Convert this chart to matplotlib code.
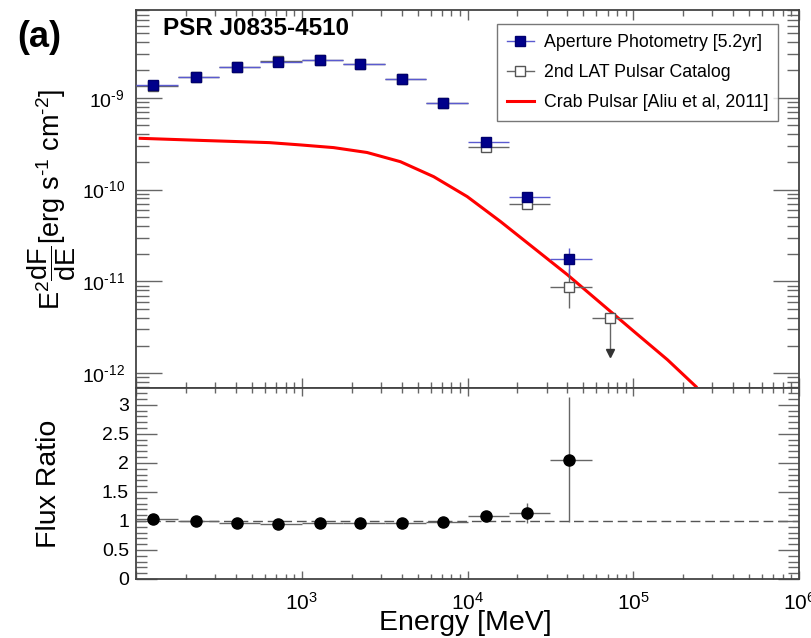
import matplotlib
matplotlib.use("Agg")
import matplotlib.pyplot as plt
from matplotlib.ticker import LogLocator, MultipleLocator, NullFormatter, FuncFormatter
from matplotlib.lines import Line2D
import numpy as np

plt.rcParams['font.family'] = ['Liberation Sans', 'DejaVu Sans']
plt.rcParams['mathtext.fontset'] = 'custom'
plt.rcParams['mathtext.rm'] = 'Liberation Sans'
plt.rcParams['mathtext.it'] = 'Liberation Sans:italic'
plt.rcParams['mathtext.bf'] = 'Liberation Sans:bold'

# energy bins [MeV]
energy = [127, 230, 405, 718, 1282, 2254, 4046, 7100, 12970, 22960, 40900, 72400]
bin_lo = [100, 178, 316, 562, 1000, 1778, 3162, 5623, 10000, 17783, 31623, 56234]
bin_hi = [178, 316, 562, 1000, 1778, 3162, 5623, 10000, 17783, 31623, 56234, 100000]

# aperture photometry [5.2yr]
ap_flux = [1.37e-9, 1.69e-9, 2.16e-9, 2.44e-9, 2.57e-9, 2.33e-9, 1.60e-9, 8.8e-10,
           3.27e-10, 8.2e-11, 1.76e-11]
ap_lo = [1.34e-9, 1.66e-9, 2.13e-9, 2.41e-9, 2.54e-9, 2.30e-9, 1.57e-9, 8.6e-10,
         3.17e-10, 7.8e-11, 1.2e-11]
ap_hi = [1.40e-9, 1.72e-9, 2.19e-9, 2.47e-9, 2.60e-9, 2.36e-9, 1.63e-9, 9.0e-10,
         3.37e-10, 8.6e-11, 2.33e-11]

# 2nd LAT pulsar catalog
cat_flux = [1.35e-9, 1.68e-9, 2.15e-9, 2.48e-9, 2.60e-9, 2.34e-9, 1.61e-9, 8.8e-10,
            2.88e-10, 6.9e-11, 8.65e-12, 4.04e-12]
cat_lo = [1.32e-9, 1.65e-9, 2.12e-9, 2.45e-9, 2.57e-9, 2.31e-9, 1.58e-9, 8.6e-10,
          2.80e-10, 6.6e-11, 5.1e-12, 4.04e-12]
cat_hi = [1.38e-9, 1.71e-9, 2.18e-9, 2.51e-9, 2.63e-9, 2.37e-9, 1.64e-9, 9.0e-10,
          2.96e-10, 7.2e-11, 1.35e-11, 4.04e-12]
cat_ul_end = 1.66e-12  # tip of the upper-limit arrow (last bin)

# Crab pulsar [Aliu et al, 2011]
crab_e = [106, 253, 638, 979, 1556, 2477, 3936, 6252, 9955, 15820, 25180, 40090,
          63680, 101200, 161000, 238900]
crab_f = [3.61e-10, 3.42e-10, 3.24e-10, 3.06e-10, 2.86e-10, 2.53e-10, 2.01e-10,
          1.38e-10, 8.38e-11, 4.48e-11, 2.30e-11, 1.18e-11, 5.79e-12, 2.84e-12,
          1.40e-12, 7.16e-13]

# flux ratio
ratio = [1.03, 1.005, 0.97, 0.95, 0.97, 0.96, 0.97, 0.98, 1.08, 1.14, 2.05]
ratio_lo = [0.02, 0.02, 0.02, 0.02, 0.02, 0.02, 0.02, 0.03, 0.05, 0.17, 1.06]
ratio_hi = [0.02, 0.02, 0.02, 0.02, 0.02, 0.02, 0.02, 0.03, 0.05, 0.17, 1.08]

energy = np.array(energy, dtype=float)
xerr = np.array([energy - np.array(bin_lo), np.array(bin_hi) - energy])
n_ap = len(ap_flux)


def pow_label(v, pos):
    e = int(round(np.log10(v)))
    if e < 0:
        return r'$10^{\text{-}%d}$' % (-e)
    return r'$10^{%d}$' % e


def x_label(v, pos):
    if v < 500:
        return ''
    return pow_label(v, pos)


fig = plt.figure(figsize=(8.11, 6.38), dpi=100)
ax1 = fig.add_axes([0.1677, 0.3918, 0.8175, 0.5925])
ax2 = fig.add_axes([0.1677, 0.0925, 0.8175, 0.2993], sharex=ax1)

tick_col = '#666666'
for ax in (ax1, ax2):
    ax.set_xscale('log')
    ax.set_xlim(100, 1e6)
    for s in ax.spines.values():
        s.set_color('#444444')
        s.set_linewidth(1.3)
    ax.tick_params(which='both', direction='in', top=True, right=True,
                   color=tick_col, width=1.0)
    ax.xaxis.set_major_locator(LogLocator(base=10, numticks=10))
    ax.xaxis.set_minor_locator(LogLocator(base=10, subs=np.arange(2, 10), numticks=20))
    ax.xaxis.set_minor_formatter(NullFormatter())
    ax.xaxis.set_major_formatter(FuncFormatter(x_label))

# --- top panel
ax1.set_yscale('log')
ax1.set_ylim(6.9e-13, 9.0e-9)
ax1.yaxis.set_minor_locator(LogLocator(base=10, subs=np.arange(2, 10), numticks=20))
ax1.yaxis.set_minor_formatter(NullFormatter())
ax1.yaxis.set_major_formatter(FuncFormatter(pow_label))
ax1.tick_params(axis='y', which='major', length=19, labelsize=14, pad=8)
ax1.tick_params(axis='y', which='minor', length=9)
ax1.tick_params(axis='x', which='major', length=7, labelbottom=False)
ax1.tick_params(axis='x', which='minor', length=4)

ax1.plot(crab_e, crab_f, color='red', lw=2.2, zorder=2)

cat_yerr = np.array([np.array(cat_flux) - np.array(cat_lo),
                     np.array(cat_hi) - np.array(cat_flux)])
ax1.errorbar(energy, cat_flux, xerr=xerr, yerr=cat_yerr, fmt='s', ms=7,
             mfc='white', mec='#555555', mew=1.0, ecolor='#666666', elinewidth=1.0,
             capsize=0, zorder=3)
ax1.plot([energy[-1], energy[-1]], [cat_flux[-1], cat_ul_end], color='#666666',
         lw=1.0, zorder=3)
ax1.plot(energy[-1], cat_ul_end, marker='v', color='#333333', ms=6, zorder=3)

ap_yerr = np.array([np.array(ap_flux) - np.array(ap_lo),
                    np.array(ap_hi) - np.array(ap_flux)])
ax1.errorbar(energy[:n_ap], ap_flux, xerr=xerr[:, :n_ap], yerr=ap_yerr, fmt='s',
             ms=7, color='#00008b', mec='#00006e', ecolor='#5a5ad0', elinewidth=1.0,
             capsize=0, zorder=4)

handles = [
    Line2D([], [], color='#5a5ad0', lw=1.0, marker='s', ms=7, mfc='#00008b', mec='#00006e'),
    Line2D([], [], color='#666666', lw=1.0, marker='s', ms=7, mfc='white', mec='#555555'),
    Line2D([], [], color='red', lw=2.2),
]
labels = ['Aperture Photometry [5.2yr]', '2nd LAT Pulsar Catalog',
          'Crab Pulsar [Aliu et al, 2011]']
leg = ax1.legend(handles, labels, loc='upper right', bbox_to_anchor=(0.968, 0.963),
                 borderaxespad=0, fontsize=12.8, frameon=True, fancybox=False,
                 edgecolor='#555555', handlelength=1.5, labelspacing=0.75,
                 borderpad=0.55, handletextpad=0.55)
leg.get_frame().set_linewidth(1.0)

ax1.set_ylabel(r'$\mathrm{E^{2}\dfrac{dF}{dE}}$[erg s$^{\text{-}1}$ cm$^{\text{-}2}$]',
               fontsize=19.5)
ax1.yaxis.set_label_coords(-0.088, 0.5)

ax1.text(0.04, 0.952, 'PSR J0835-4510', transform=ax1.transAxes, fontsize=17.5,
         fontweight='bold', va='center', ha='left')
fig.text(0.021, 0.942, '(a)', fontsize=26, fontweight='bold', va='center', ha='left')

# --- bottom panel
ax2.set_ylim(0, 3.29)
ax2.yaxis.set_major_locator(MultipleLocator(0.5))
ax2.yaxis.set_minor_locator(MultipleLocator(0.1))
ax2.yaxis.set_major_formatter(FuncFormatter(lambda v, p: f'{v:g}'))
ax2.tick_params(axis='y', which='major', length=15, labelsize=14, pad=5)
ax2.tick_params(axis='y', which='minor', length=8)
ax2.tick_params(axis='x', which='major', length=6, labelsize=15, pad=9)
ax2.tick_params(axis='x', which='minor', length=3.5)

ax2.axhline(1.0, color='#555555', lw=1.0, dashes=(7, 3.5), zorder=1)
ax2.errorbar(energy[:n_ap], ratio, xerr=xerr[:, :n_ap], yerr=[ratio_lo, ratio_hi],
             fmt='o', ms=8, color='black', ecolor='#666666', elinewidth=1.0,
             capsize=0, zorder=3)

ax2.set_ylabel('Flux Ratio', fontsize=20.5)
ax2.yaxis.set_label_coords(-0.111, 0.5)
ax2.set_xlabel('Energy [MeV]', fontsize=20.5)
ax2.xaxis.set_label_coords(0.496, -0.165)

fig.savefig('out.png', dpi=100)
